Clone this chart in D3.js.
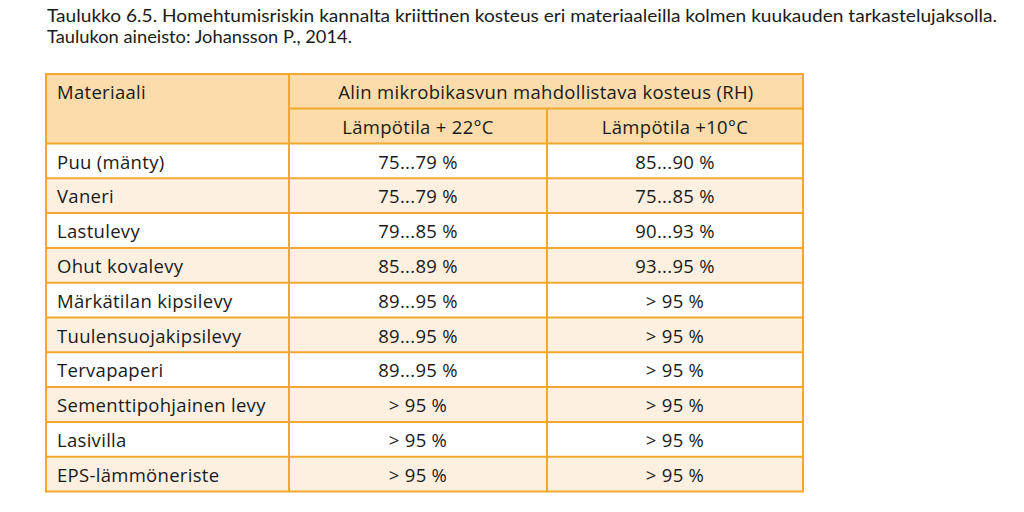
<!DOCTYPE html>
<html><head><meta charset="utf-8">
<script src="https://cdn.jsdelivr.net/npm/d3@7"></script>
<style>
html,body{margin:0;padding:0;background:#fff;}
svg{display:block;}
text{font-family:"Open Sans",Lato,sans-serif;fill:#1a1a1a;}
text.title{font-family:Lato,"Open Sans",sans-serif;}
</style></head>
<body>
<svg id="c" width="1024" height="512"></svg>
<script>
const titleLines = [
  "Taulukko 6.5. Homehtumisriskin kannalta kriittinen kosteus eri materiaaleilla kolmen kuukauden tarkastelujaksolla.",
  "Taulukon aineisto: Johansson P., 2014."
];
const headerMaterial = "Materiaali";
const headerGroup = "Alin mikrobikasvun mahdollistava kosteus (RH)";
const columnLabels = ["Lämpötila + 22°C", "Lämpötila +10°C"];
const materials = ["Puu (mänty)", "Vaneri", "Lastulevy", "Ohut kovalevy", "Märkätilan kipsilevy",
  "Tuulensuojakipsilevy", "Tervapaperi", "Sementtipohjainen levy", "Lasivilla", "EPS-lämmöneriste"];
const rh22 = ["75...79 %", "75...79 %", "79...85 %", "85...89 %", "89...95 %", "89...95 %", "89...95 %", "> 95 %", "> 95 %", "> 95 %"];
const rh10 = ["85...90 %", "75...85 %", "90...93 %", "93...95 %", "> 95 %", "> 95 %", "> 95 %", "> 95 %", "> 95 %", "> 95 %"];

const svg = d3.select("#c");
const border = "#f0a82e", headFill = "#fbdcaa", altFill = "#fdf0e0";
const L = 46, R = 803, C1 = 289, C2 = 547, T = 74, H1 = 108.5, H2 = 143.5, B = 491.5;
const titleWidths = [950, 305];

// title
svg.selectAll("text.title").data(titleLines).join("text")
  .attr("class","title").attr("x",47).attr("y",(d,i)=>22+i*20.5)
  .attr("font-size",16.4).attr("textLength",(d,i)=>titleWidths[i]).attr("lengthAdjust","spacingAndGlyphs").text(d=>d);

const y = d3.scaleBand().domain(d3.range(materials.length)).range([H2, B]);
const x = d3.scaleOrdinal().domain(["m","a","b"]).range([[L,C1],[C1,C2],[C2,R]]);

// header fills
svg.append("rect").attr("x",L).attr("y",T).attr("width",R-L).attr("height",H2-T).attr("fill",headFill);
// row fills
svg.selectAll("rect.row").data(materials).join("rect").attr("class","row")
  .attr("x",L).attr("y",(d,i)=>y(i)).attr("width",R-L).attr("height",y.bandwidth())
  .attr("fill",(d,i)=>i%2?altFill:"#fff");

// grid lines
const g = svg.append("g").attr("stroke",border).attr("stroke-width",2).attr("fill","none");
g.append("line").attr("x1",C1).attr("x2",R).attr("y1",H1).attr("y2",H1);
svg.append("g").selectAll("line").data(d3.range(materials.length+1)).join("line")
  .attr("x1",L).attr("x2",R).attr("y1",i=>i<materials.length?y(i):B).attr("y2",i=>i<materials.length?y(i):B)
  .attr("stroke",border).attr("stroke-width",2);
g.append("line").attr("x1",L).attr("x2",R).attr("y1",T).attr("y2",T);
g.append("line").attr("x1",C1).attr("x2",C1).attr("y1",T).attr("y2",B);
g.append("line").attr("x1",C2).attr("x2",C2).attr("y1",H1).attr("y2",B);
g.append("line").attr("x1",L).attr("x2",L).attr("y1",T-1).attr("y2",B+1);
g.append("line").attr("x1",R).attr("x2",R).attr("y1",T-1).attr("y2",B+1);

const fs = 18.5;
const tx = sel => sel.attr("font-size",fs).attr("letter-spacing","0.3px").attr("dy","0.36em");
// header texts
svg.append("text").attr("x",L+11).attr("y",(T+H1)/2+1).call(tx).text(headerMaterial);
svg.append("text").attr("x",(C1+R)/2).attr("y",(T+H1)/2+1).attr("text-anchor","middle").call(tx).text(headerGroup);
svg.selectAll("text.col").data(columnLabels).join("text").attr("class","col")
  .attr("x",(d,i)=>{const r=x(i?"b":"a");return (r[0]+r[1])/2;})
  .attr("y",(H1+H2)/2+1).attr("text-anchor","middle").call(tx).text(d=>d);

// body
const cy = i => y(i)+y.bandwidth()/2+1;
svg.selectAll("text.mat").data(materials).join("text").attr("class","mat")
  .attr("x",L+11).attr("y",(d,i)=>cy(i)).call(tx).text(d=>d);
svg.selectAll("text.v22").data(rh22).join("text").attr("class","v22")
  .attr("x",(x("a")[0]+x("a")[1])/2).attr("y",(d,i)=>cy(i)).attr("text-anchor","middle").call(tx).text(d=>d);
svg.selectAll("text.v10").data(rh10).join("text").attr("class","v10")
  .attr("x",(x("b")[0]+x("b")[1])/2).attr("y",(d,i)=>cy(i)).attr("text-anchor","middle").call(tx).text(d=>d);
</script>
</body></html>
